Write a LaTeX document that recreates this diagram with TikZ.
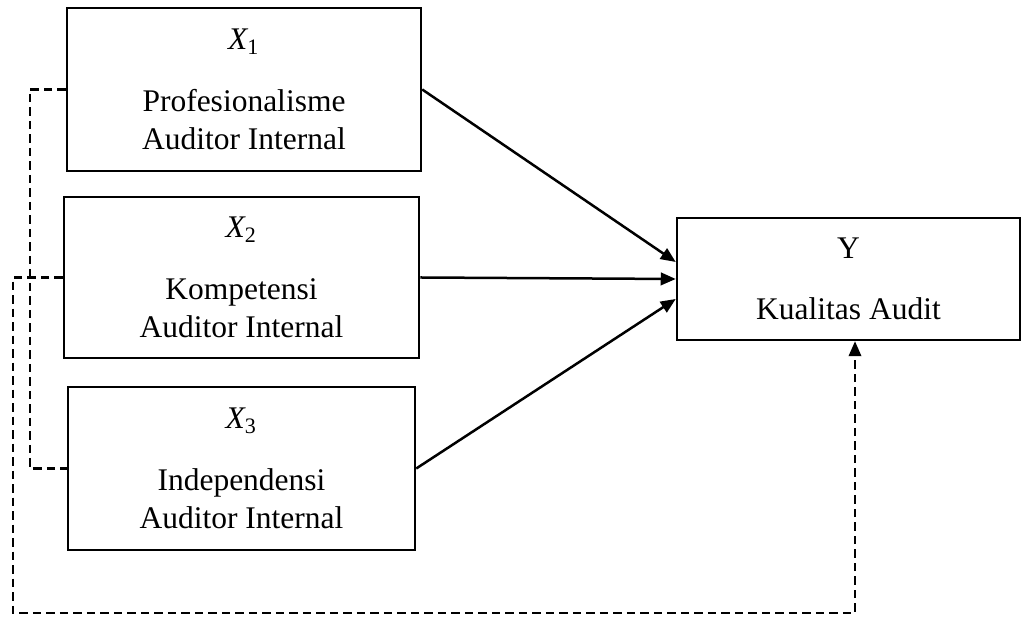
\documentclass[tikz,border=0pt]{standalone}
\usepackage{fontspec}
\setmainfont{Liberation Serif}
\usetikzlibrary{arrows.meta}

\begin{document}
\begin{tikzpicture}[x=0.4pt,y=-0.4pt,
    box/.style={draw,line width=1pt,align=center,inner sep=0pt,
      font=\fontsize{12.6}{15.2}\selectfont},
    dep/.style={dash pattern=on 3.4pt off 2pt,line width=0.85pt},
    >={Triangle[length=6pt,width=5pt]}]
  \useasboundingbox (0,0) rectangle (1022,617);
  % variabel independen
  \node[box,minimum width=141.6pt,minimum height=65.2pt] (x1) at (244,89.5)
    {{\itshape X}\textsubscript{1}\\[9.6pt] Profesionalisme\\ Auditor Internal};
  \node[box,minimum width=142pt,minimum height=64.4pt] (x2) at (241.5,277.5)
    {{\itshape X}\textsubscript{2}\\[9.6pt] Kompetensi\\ Auditor Internal};
  \node[box,minimum width=138.8pt,minimum height=65.2pt] (x3) at (241.5,468.5)
    {{\itshape X}\textsubscript{3}\\[9.6pt] Independensi\\ Auditor Internal};
  % variabel dependen
  \node[box,minimum width=137.2pt,minimum height=48.8pt] (y) at (848.5,279)
    {Y\\[9.2pt] Kualitas Audit};
  % pengaruh parsial
  \draw[->,line width=1pt] (x1.east) -- ([yshift=6.8pt]y.west);
  \draw[->,line width=1pt] (x2.east) -- (y.west);
  \draw[->,line width=1pt] (x3.east) -- ([yshift=-8pt]y.west);
  % pengaruh simultan
  \coordinate (kiri) at (13,613);
  \draw[dep] (x1.west) -- ++(-36,0) |- (x3.west);
  \draw[dep,->] (x2.west) -| (kiri) -| ([xshift=2.6pt]y.south);
\end{tikzpicture}
\end{document}
